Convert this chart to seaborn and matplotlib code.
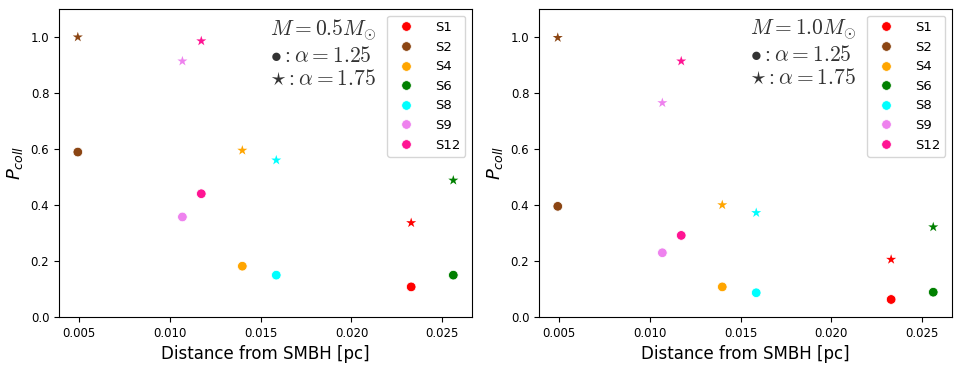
import pandas as pd
import matplotlib
matplotlib.use("Agg")
import matplotlib.pyplot as plt
import seaborn as sns

# stars and their distances from the SMBH [pc]
stars = ['S1', 'S2', 'S4', 'S6', 'S8', 'S9', 'S12']
distance = [0.02329, 0.00493, 0.01399, 0.02561, 0.01586, 0.01069, 0.01173]
colors = ['red', 'saddlebrown', 'orange', 'green', 'cyan', 'violet', 'deeppink']

# collision probability, M = 0.5 Msun
p05_a125 = [0.107, 0.589, 0.181, 0.149, 0.149, 0.357, 0.440]
p05_a175 = [0.336, 1.000, 0.595, 0.488, 0.560, 0.914, 0.986]

# collision probability, M = 1.0 Msun
p10_a125 = [0.062, 0.395, 0.107, 0.088, 0.086, 0.229, 0.291]
p10_a175 = [0.205, 0.998, 0.400, 0.321, 0.372, 0.765, 0.914]

panels = [("0.5", p05_a125, p05_a175), ("1.0", p10_a125, p10_a175)]
palette = dict(zip(stars, colors))

fig, axes = plt.subplots(1, 2, figsize=(9.6, 3.65), dpi=100)
fig.subplots_adjust(left=0.0615, right=0.9917, top=0.975, bottom=0.132, wspace=0.162)

for ax, (mass, a125, a175) in zip(axes, panels):
    df = pd.DataFrame({'star': stars, 'd': distance, 'p125': a125, 'p175': a175})
    sns.scatterplot(data=df, x='d', y='p125', hue='star', palette=palette,
                    marker='o', s=48, ax=ax)
    sns.scatterplot(data=df, x='d', y='p175', hue='star', palette=palette,
                    marker='*', s=58, linewidth=0, ax=ax, legend=False)
    ax.set_ylim(0, 1.1)
    ax.set_xlabel('Distance from SMBH [pc]', fontsize=12)
    ax.set_ylabel(r'$P_{coll}$', fontsize=13)
    ax.tick_params(labelsize=8.5)
    ax.legend(loc='upper right', fontsize=9.5, handletextpad=1.2)
    ax.text(0.51, 0.975,
            r'$M=%sM_{\odot}$' % mass + '\n' + r'$\bullet:\alpha=1.25$' + '\n' + r'$\star:\alpha=1.75$',
            transform=ax.transAxes, va='top', ha='left', fontsize=15.5,
            math_fontfamily='cm', color='#333333')

fig.savefig('out.png', dpi=100)
